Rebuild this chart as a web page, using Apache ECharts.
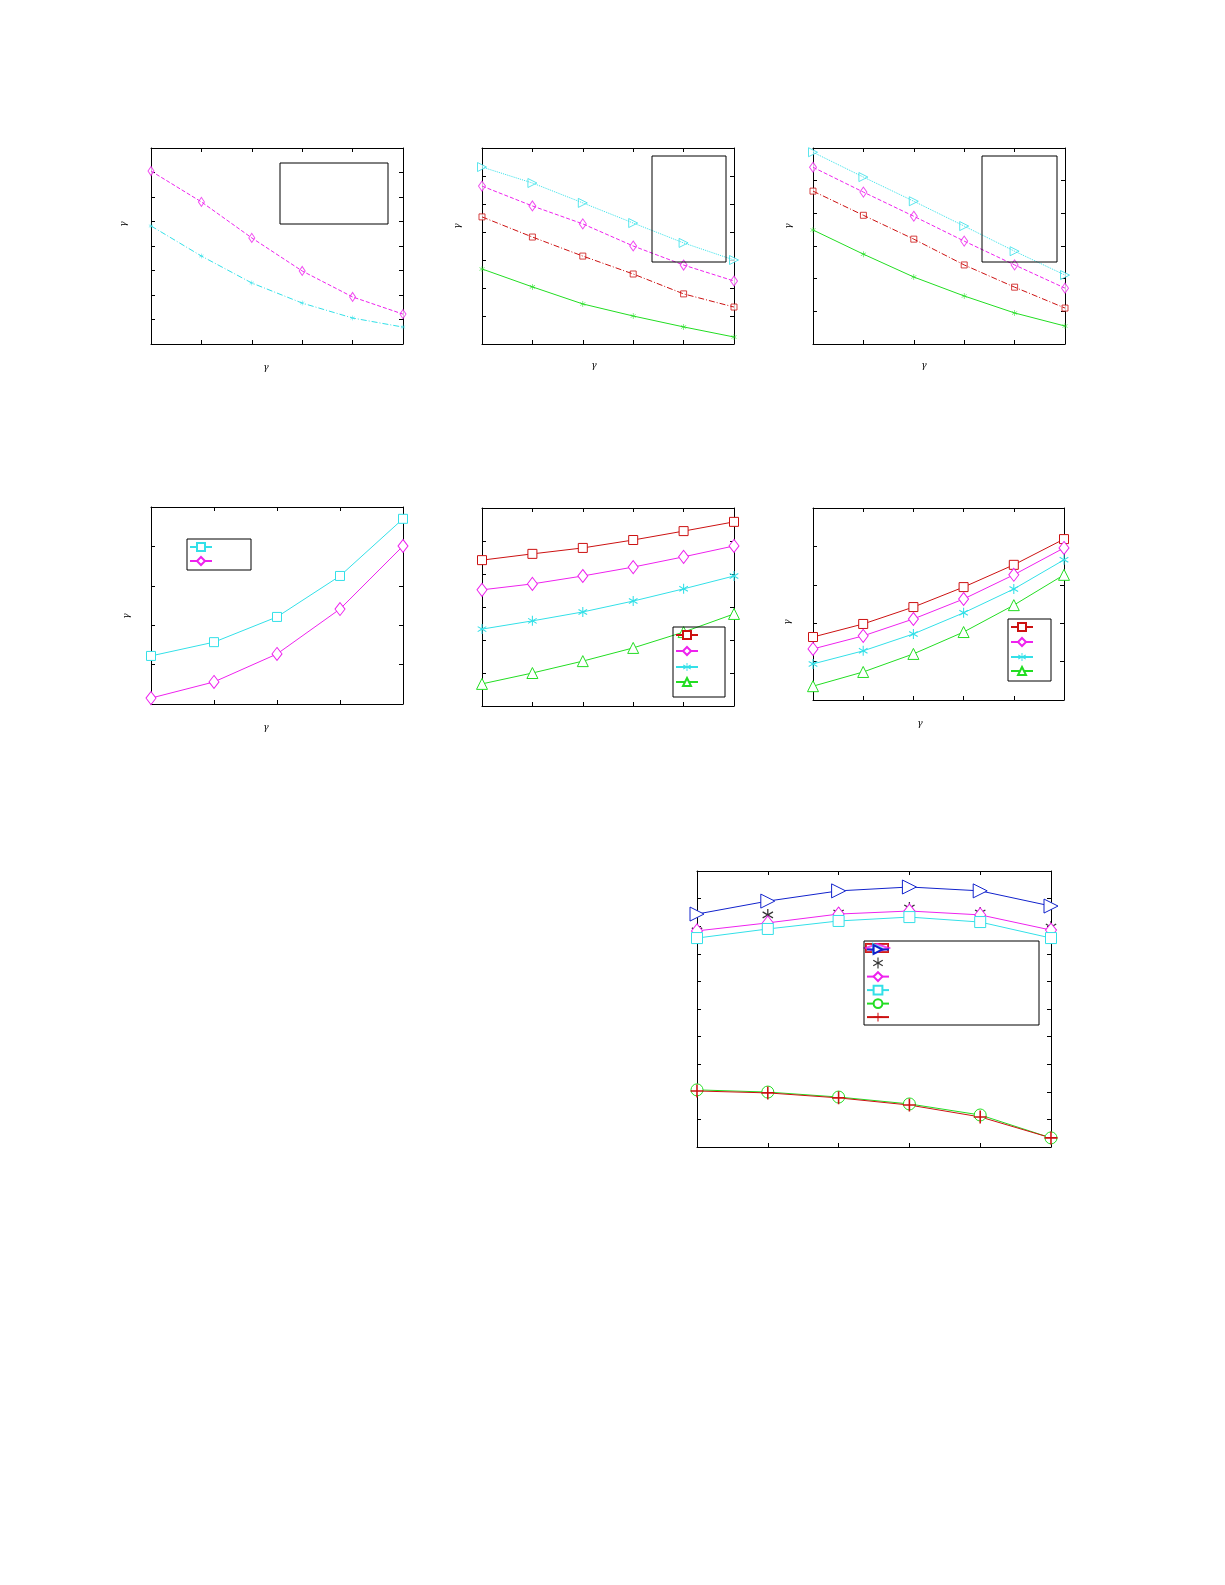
<!DOCTYPE html>
<html>
<head>
<meta charset="utf-8">
<script src="https://cdn.jsdelivr.net/npm/echarts@6/dist/echarts.min.js"></script>
<style>html,body{margin:0;background:#fff;overflow:hidden}#main{width:1225px;height:1585px}</style>
</head>
<body>
<div id="main"></div>
<script>
// 数据（读图估计，坐标轴无刻度标签，按刻度格数归一）
const p1Magenta = [7.06, 5.80, 4.33, 2.98, 1.92, 1.22]
const p1Cyan = [4.82, 3.59, 2.49, 1.67, 1.06, 0.69]

const p2Green = [2.68, 2.04, 1.43, 1.00, 0.61, 0.25]
const p2Red = [4.54, 3.82, 3.14, 2.50, 1.79, 1.32]
const p2Magenta = [5.64, 4.93, 4.29, 3.50, 2.82, 2.25]
const p2Cyan = [6.32, 5.75, 5.04, 4.32, 3.61, 3.00]

const p3Green = [3.49, 2.75, 2.05, 1.47, 0.95, 0.55]
const p3Red = [4.68, 3.94, 3.21, 2.42, 1.74, 1.10]
const p3Magenta = [5.41, 4.65, 3.91, 3.15, 2.42, 1.71]
const p3Cyan = [5.87, 5.11, 4.37, 3.61, 2.84, 2.11]

const p4Cyan = [1.22, 1.57, 2.21, 3.25, 4.70]
const p4Magenta = [0.15, 0.56, 1.27, 2.41, 4.01]

const p5Red = [4.42, 4.61, 4.79, 5.03, 5.30, 5.58]
const p5Magenta = [3.52, 3.70, 3.94, 4.21, 4.52, 4.85]
const p5Cyan = [2.33, 2.58, 2.85, 3.18, 3.55, 3.94]
const p5Green = [0.67, 1.00, 1.36, 1.76, 2.24, 2.79]

const p6Red = [1.64, 1.98, 2.42, 2.94, 3.52, 4.19]
const p6Magenta = [1.33, 1.67, 2.11, 2.63, 3.26, 3.96]
const p6Cyan = [0.94, 1.28, 1.72, 2.27, 2.89, 3.65]
const p6Green = [0.36, 0.73, 1.20, 1.77, 2.47, 3.26]

const p7Blue = [8.44, 8.91, 9.28, 9.42, 9.28, 8.73]
const p7Black = [7.83, 8.41, 8.48, 8.66, 8.48, 7.97]
const p7Magenta = [7.83, 8.12, 8.44, 8.55, 8.41, 7.86]
const p7Cyan = [7.57, 7.90, 8.19, 8.33, 8.15, 7.57]
const p7Green = [2.07, 1.99, 1.81, 1.56, 1.16, 0.33]
const p7Red = [2.03, 1.96, 1.78, 1.52, 1.09, 0.33]

const C = { g: '#22dd22', r: '#cc1111', m: '#ee22ee', c: '#33e0e8', b: '#1122cc', k: '#000' }
const STAR = 'path://M4.5,0h1v3.8l3.3-1.9l0.5,0.9l-3.3,1.9l3.3,1.9l-0.5,0.9l-3.3-1.9v3.8h-1v-3.8l-3.3,1.9l-0.5-0.9l3.3-1.9l-3.3-1.9l0.5-0.9l3.3,1.9z'
const TRI = 'path://M0,0L10,5L0,10Z'
const PLUS = 'path://M4.4,0h1.2v4.4h4.4v1.2h-4.4v4.4h-1.2v-4.4h-4.4v-1.2h4.4z'
const DASHDOT = [6, 2, 1, 2]
const NOICON = 'path://M0,0L0.01,0'

const grids = [], xAxes = [], yAxes = [], series = [], legends = [], graphics = []
const lineOnly = new Set()

function panel(box, n, ymax) {
  const gi = grids.length
  grids.push({ left: box[0], top: box[1], width: box[2] - box[0], height: box[3] - box[1] })
  const base = {
    gridIndex: gi, type: 'value', interval: 1, min: 0,
    axisLine: { onZero: false, lineStyle: { color: '#000', width: 1 } },
    axisTick: { inside: true, length: 4, lineStyle: { color: '#000' } },
    axisLabel: { show: false }, splitLine: { show: false }
  }
  xAxes.push({ ...base, max: n - 1, position: 'bottom' }, { ...base, max: n - 1, position: 'top' })
  yAxes.push({ ...base, max: ymax, position: 'left' }, { ...base, max: ymax, position: 'right' })
  return gi
}

function addLine(gi, name, vals, color, symbol, size, ltype, hollow) {
  if (!symbol) lineOnly.add(name)
  series.push({
    name, type: 'line', xAxisIndex: gi * 2, yAxisIndex: gi * 2,
    data: vals.map((v, j) => [j, v]),
    symbol: symbol || 'none', symbolSize: size, showSymbol: !!symbol, symbolKeepAspect: true,
    lineStyle: { color, width: 1, type: ltype || 'solid' },
    itemStyle: hollow ? { color: '#fff', borderColor: color, borderWidth: 1 } : { color },
    color, animation: false, silent: true
  })
}

function addScatter(gi, name, vals, color, symbol, size, hollow) {
  series.push({
    name, type: 'scatter', xAxisIndex: gi * 2, yAxisIndex: gi * 2,
    data: vals.map((v, j) => [j, v]),
    symbol, symbolSize: size, symbolKeepAspect: true,
    itemStyle: hollow ? { color: '#fff', borderColor: color, borderWidth: 1 } : { color },
    animation: false, silent: true
  })
}

function addLegend(names, box, itemH, gap) {
  graphics.push({ type: 'rect', shape: { x: box[0], y: box[1], width: box[2] - box[0], height: box[3] - box[1] },
    style: { fill: 'none', stroke: '#000', lineWidth: 1 }, z: 10 })
  legends.push({
    data: names.map(n => lineOnly.has(n) ? { name: n, icon: NOICON } : n),
    orient: 'vertical', left: box[0] + 2, top: box[1] + 3,
    itemWidth: 22, itemHeight: itemH, itemGap: gap, padding: 0,
    formatter: () => '', selectedMode: false, textStyle: { fontSize: 1 }
  })
}

function gamma(x, y, rot) {
  graphics.push({ type: 'text', x, y, rotation: rot ? Math.PI / 2 : 0,
    style: { text: 'γ', font: 'italic 9px "DejaVu Serif"', fill: '#000', align: 'center', verticalAlign: 'middle' } })
}

// 第一行
let g = panel([151, 148, 403, 344], 6, 8)
addScatter(g, 'a1', p1Magenta, C.m, 'diamond', [6, 9], true)
addLine(g, 'a2', p1Magenta, C.m, null, 0, 'dashed')
addScatter(g, 'a3', p1Cyan, C.c, STAR, 5)
addLine(g, 'a4', p1Cyan, C.c, null, 0, DASHDOT)
addLegend(['a1', 'a2', 'a3', 'a4'], [280, 163, 388, 224], 8, 7)
gamma(124, 224, true); gamma(266, 368)

g = panel([482, 148, 734, 344], 6, 7)
addScatter(g, 'b1', p2Green, C.g, STAR, 6)
addLine(g, 'b2', p2Green, C.g, null, 0, 'solid')
addScatter(g, 'b3', p2Red, C.r, 'rect', 6, true)
addLine(g, 'b4', p2Red, C.r, null, 0, DASHDOT)
addScatter(g, 'b5', p2Magenta, C.m, 'diamond', [7, 10], true)
addLine(g, 'b6', p2Magenta, C.m, null, 0, 'dashed')
addScatter(g, 'b7', p2Cyan, C.c, TRI, 9, true)
addLine(g, 'b8', p2Cyan, C.c, null, 0, 'dotted')
addLegend(['b1', 'b2', 'b3', 'b4', 'b5', 'b6', 'b7', 'b8'], [652, 156, 726, 262], 8, 5)
gamma(458, 226, true); gamma(594, 366)

g = panel([813, 148, 1065, 344], 6, 6)
addScatter(g, 'c1', p3Green, C.g, STAR, 6)
addLine(g, 'c2', p3Green, C.g, null, 0, 'solid')
addScatter(g, 'c3', p3Red, C.r, 'rect', 6, true)
addLine(g, 'c4', p3Red, C.r, null, 0, DASHDOT)
addScatter(g, 'c5', p3Magenta, C.m, 'diamond', [7, 10], true)
addLine(g, 'c6', p3Magenta, C.m, null, 0, 'dashed')
addScatter(g, 'c7', p3Cyan, C.c, TRI, 9, true)
addLine(g, 'c8', p3Cyan, C.c, null, 0, 'dotted')
addLegend(['c1', 'c2', 'c3', 'c4', 'c5', 'c6', 'c7', 'c8'], [982, 156, 1057, 262], 8, 5)
gamma(789, 226, true); gamma(924, 366)

// 第二行
g = panel([151, 507, 403, 704], 5, 5)
addLine(g, 'd1', p4Cyan, C.c, 'rect', 9, 'solid', true)
addLine(g, 'd2', p4Magenta, C.m, 'diamond', [10, 13], 'solid', true)
addLegend(['d1', 'd2'], [187, 539, 251, 570], 10, 4)
gamma(127, 616, true); gamma(266, 728)

g = panel([482, 508, 734, 706], 6, 6)
addLine(g, 'e1', p5Red, C.r, 'rect', 9, 'solid', true)
addLine(g, 'e2', p5Magenta, C.m, 'diamond', [10, 13], 'solid', true)
addLine(g, 'e3', p5Cyan, C.c, STAR, 10, 'solid')
addLine(g, 'e4', p5Green, C.g, 'triangle', 11, 'solid', true)
addLegend(['e1', 'e2', 'e3', 'e4'], [673, 627, 725, 697], 10, 6)

g = panel([813, 508, 1064, 700], 6, 5)
addLine(g, 'f1', p6Red, C.r, 'rect', 9, 'solid', true)
addLine(g, 'f2', p6Magenta, C.m, 'diamond', [10, 13], 'solid', true)
addLine(g, 'f3', p6Cyan, C.c, STAR, 10, 'solid')
addLine(g, 'f4', p6Green, C.g, 'triangle', 11, 'solid', true)
addLegend(['f1', 'f2', 'f3', 'f4'], [1008, 619, 1051, 681], 10, 5)
gamma(788, 622, true); gamma(920, 724)

// 底部大图
g = panel([697, 871, 1051, 1147], 6, 10)
addLine(g, 'h1', p7Blue, C.b, TRI, 14, 'solid', true)
addScatter(g, 'h2', p7Black, C.k, STAR, 12)
addLine(g, 'h3', p7Magenta, C.m, 'diamond', [11, 14], 'solid', true)
addLine(g, 'h4', p7Cyan, C.c, 'rect', 11, 'solid', true)
addLine(g, 'h5', p7Green, C.g, 'circle', 12, 'solid', true)
addLine(g, 'h6', p7Red, C.r, PLUS, 13, 'solid')
addLegend(['h1', 'h2', 'h3', 'h4', 'h5', 'h6'], [864, 941, 1039, 1025], 11, 2.6)

const chart = echarts.init(document.getElementById('main'), null, { renderer: 'canvas' })
chart.setOption({
  animation: false,
  grid: grids, xAxis: xAxes, yAxis: yAxes,
  series, legend: legends, graphic: graphics
})
</script>
</body>
</html>
